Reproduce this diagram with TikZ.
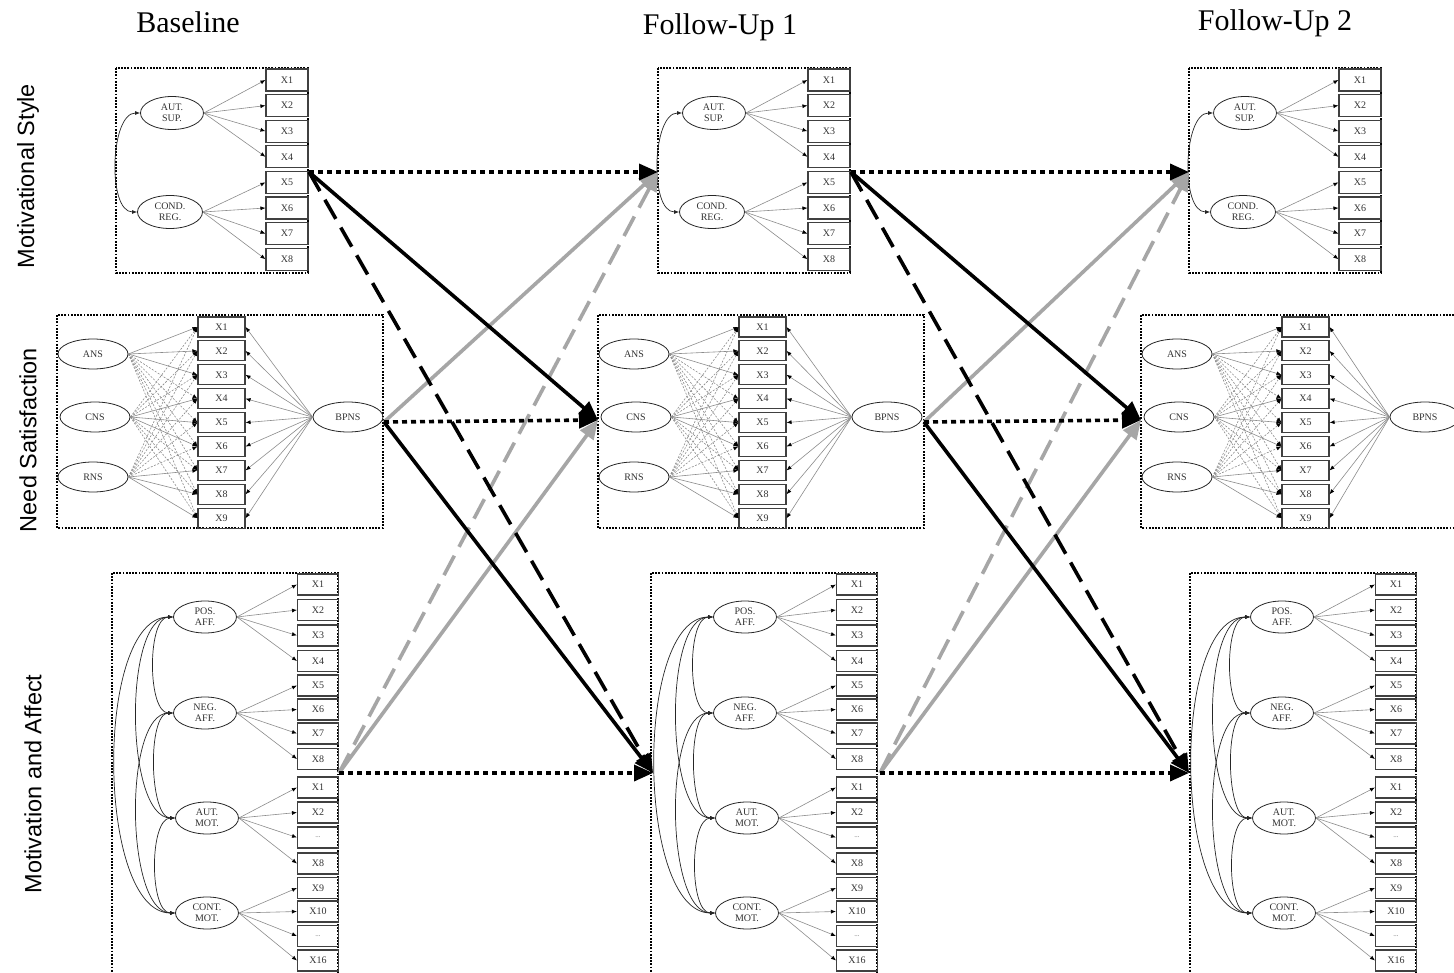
\documentclass[tikz,border=0pt]{standalone}
\usepackage{fontspec}
\setmainfont{Liberation Serif}
\newfontfamily\sidefont{Liberation Sans}
\usetikzlibrary{arrows.meta,shapes.geometric}
\newcommand\smalldots{{\fontsize{7}{7}\selectfont\color{black!60}...}}
\begin{document}
\begin{tikzpicture}[x=1pt,y=-1pt,
  frame/.style={draw=black, line width=1.8pt, dash pattern=on 1.8pt off 1.4pt},
  ind/.style={draw=black!75, line width=1.1pt, rectangle, inner sep=0pt, font=\fontsize{10}{10}\selectfont, text=black!80},
  lat/.style={draw=black!85, line width=0.8pt, ellipse, inner sep=0pt, align=center, font=\fontsize{10}{10.5}\selectfont, text=black!80},
  load/.style={draw=black!45, line width=0.6pt, -{Latex[length=5pt,width=4pt,color=black]}},
  xload/.style={load, dash pattern=on 2pt off 1.5pt},
  cov/.style={draw=black!85, line width=0.7pt, {Latex[length=5pt,width=4pt]}-{Latex[length=5pt,width=4pt]}},
  big/.style={line width=3.6pt, -{Triangle[length=19pt,width=16pt]}},
  bigblack/.style={big, draw=black},
  bigdash/.style={big, draw=black, dash pattern=on 22pt off 10pt},
  biggray/.style={big, draw=black!35},
  biggraydash/.style={big, draw=black!35, dash pattern=on 22pt off 10pt},
  bigdot/.style={big, draw=black, dash pattern=on 5pt off 4pt},
  head/.style={font=\fontsize{30}{30}\selectfont},
  side/.style={font=\sidefont\fontsize{23.5}{24}\selectfont, rotate=90}
]
\useasboundingbox (0,0) rectangle (1454,973);
\fill[white] (0,0) rectangle (1454,973);
\clip (0,0) rectangle (1454,973);

% headings
\node[head] (h0) at (188,22) {Baseline};
\node[head] (h1) at (720,27) {Follow-Up 1};
\node[head] (h2) at (1275,23) {Follow-Up 2};
\node[side] (l0) at (28,176) {Motivational Style};
\node[side] (l1) at (28,440) {Need Satisfaction};
\node[side] (l2) at (33,784) {Motivation and Affect};

% Motivational style blocks
\foreach \t/\dx in {0/0, 1/542, 2/1073} {
  \draw[frame] (116+\dx,68) rectangle (308+\dx,273);
  \foreach \i/\y in {1/80,2/105.6,3/131.2,4/156.8,5/182.4,6/208,7/233.6,8/259.2}
    \node[ind, minimum width=42pt, minimum height=22pt] (ms\t-x\i) at (287+\dx,\y) {X\i};
  \node[lat, minimum width=63pt, minimum height=33pt] (ms\t-a) at (172+\dx,113) {AUT.\\SUP.};
  \node[lat, minimum width=65pt, minimum height=33pt] (ms\t-c) at (170+\dx,212) {COND.\\REG.};
  \foreach \i in {1,...,4} \draw[load] (ms\t-a.east) -- (ms\t-x\i.west);
  \foreach \i in {5,...,8} \draw[load] (ms\t-c.east) -- (ms\t-x\i.west);
  \draw[cov] (ms\t-a.west) .. controls +(-30,0) and +(-30,0) .. (ms\t-c.west);
}

% Need satisfaction blocks
\foreach \t/\dx/\bx in {0/0/348, 1/541/887, 2/1084/1425} {
  \draw[frame] (57+\dx,315) rectangle (383+\dx,528);
  \foreach \i/\y in {1/327,2/350.9,3/374.8,4/398.7,5/422.6,6/446.5,7/470.4,8/494.3,9/518.2}
    \node[ind, minimum width=47pt, minimum height=20pt] (ns\t-x\i) at (221.5+\dx,\y) {X\i};
  \node[lat, minimum width=70pt, minimum height=30pt] (ns\t-a) at (93+\dx,354) {ANS};
  \node[lat, minimum width=70pt, minimum height=30pt] (ns\t-c) at (95+\dx,417) {CNS};
  \node[lat, minimum width=70pt, minimum height=30pt] (ns\t-r) at (93+\dx,477) {RNS};
  \node[lat, minimum width=70pt, minimum height=30pt] (ns\t-b) at (\bx,417) {BPNS};
  \foreach \i in {4,...,9} \draw[xload] (ns\t-a.east) -- (ns\t-x\i.west);
  \foreach \i in {1,2,3,7,8,9} \draw[xload] (ns\t-c.east) -- (ns\t-x\i.west);
  \foreach \i in {1,...,6} \draw[xload] (ns\t-r.east) -- (ns\t-x\i.west);
  \foreach \i in {1,2,3} \draw[load] (ns\t-a.east) -- (ns\t-x\i.west);
  \foreach \i in {4,5,6} \draw[load] (ns\t-c.east) -- (ns\t-x\i.west);
  \foreach \i in {7,8,9} \draw[load] (ns\t-r.east) -- (ns\t-x\i.west);
  \foreach \i in {1,...,9} \draw[load] (ns\t-b.west) -- (ns\t-x\i.east);
}

% Motivation and affect blocks
\foreach \t/\dx/\ex in {0/0/0, 1/539/540, 2/1078/1077} {
  \draw[frame] (112+\dx,573) rectangle (338+\dx,990);
  \foreach \k/\y/\lab in {1/584.5/X1, 2/610/X2, 3/635.5/X3, 4/661/X4, 5/685.5/X5, 6/709.5/X6, 7/733.5/X7, 8/759/X8, 9/787.5/X1, 10/812.5/X2, 11/837.5/\smalldots, 12/863.5/X8, 13/888/X9, 14/911.5/X10, 15/936/\smalldots, 16/960.5/X16}
    \node[ind, minimum width=41pt, minimum height=21pt] (ma\t-x\k) at (318+\dx,\y) {\lab};
  \node[lat, minimum width=63pt, minimum height=32pt] (ma\t-p) at (205+\ex,617) {POS.\\AFF.};
  \node[lat, minimum width=63pt, minimum height=32pt] (ma\t-n) at (205+\ex,713) {NEG.\\AFF.};
  \node[lat, minimum width=63pt, minimum height=32pt] (ma\t-a) at (207+\ex,818) {AUT.\\MOT.};
  \node[lat, minimum width=63pt, minimum height=32pt] (ma\t-c) at (207+\ex,913) {CONT.\\MOT.};
  \foreach \k in {1,...,4} \draw[load] (ma\t-p.east) -- (ma\t-x\k.west);
  \foreach \k in {5,...,8} \draw[load] (ma\t-n.east) -- (ma\t-x\k.west);
  \foreach \k in {9,...,12} \draw[load] (ma\t-a.east) -- (ma\t-x\k.west);
  \foreach \k in {13,...,16} \draw[load] (ma\t-c.east) -- (ma\t-x\k.west);
  \draw[cov] (ma\t-p.west) .. controls +(-26,0) and +(-26,0) .. (ma\t-n.west);
  \draw[cov] (ma\t-n.west) .. controls +(-26,0) and +(-26,0) .. (ma\t-a.west);
  \draw[cov] (ma\t-a.west) .. controls +(-26,0) and +(-26,0) .. (ma\t-c.west);
  \draw[cov] (ma\t-p.west) .. controls +(-50,0) and +(-50,0) .. (ma\t-a.west);
  \draw[cov] (ma\t-n.west) .. controls +(-50,0) and +(-50,0) .. (ma\t-c.west);
  \draw[cov] (ma\t-p.west) .. controls +(-79,0) and +(-79,0) .. (ma\t-c.west);
}

% cross-lagged connector end points
\coordinate (sM0) at (309,172);
\coordinate (sN0) at (384,422);
\coordinate (sA0) at (339,773);
\coordinate (tM1) at (658,172);
\coordinate (tN1) at (598,420);
\coordinate (tA1) at (653,773);
\coordinate (sM1) at (851,172);
\coordinate (sN1) at (924,422);
\coordinate (sA1) at (880,773);
\coordinate (tM2) at (1189,172);
\coordinate (tN2) at (1141,420);
\coordinate (tA2) at (1189,773);

\foreach \s/\u in {0/1, 1/2} {
  \draw[biggray] (sN\s) -- (tM\u);
  \draw[biggray] (sA\s) -- (tN\u);
  \draw[biggraydash] (sA\s) -- (tM\u);
  \draw[bigdash] (sM\s) -- (tA\u);
  \draw[bigblack] (sM\s) -- (tN\u);
  \draw[bigblack] (sN\s) -- (tA\u);
  \draw[bigdot] (sM\s) -- (tM\u);
  \draw[bigdot] (sN\s) -- (tN\u);
  \draw[bigdot] (sA\s) -- (tA\u);
}
\end{tikzpicture}
\end{document}
